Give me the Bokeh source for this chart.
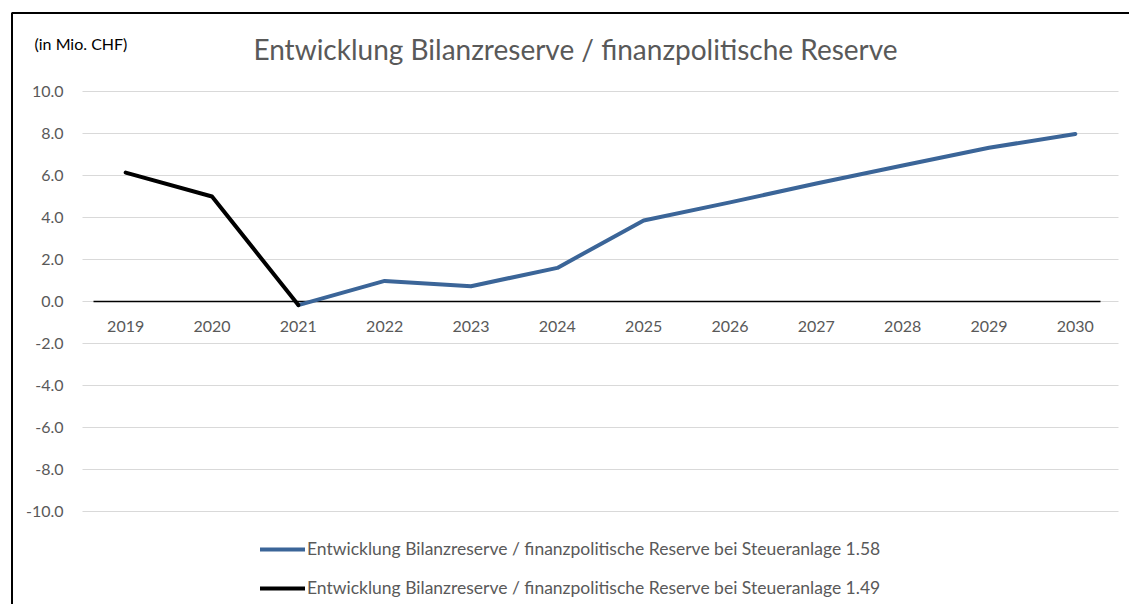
from bokeh.plotting import figure
from bokeh.models import Range1d, Label, Legend, LegendItem
from bokeh.core.properties import value
from bokeh.embed import file_html
from bokeh.resources import INLINE

# ---------------- data ----------------
years = ["2019", "2020", "2021", "2022", "2023", "2024", "2025", "2026", "2027", "2028", "2029", "2030"]
blue_years = ["2021", "2022", "2023", "2024", "2025", "2026", "2027", "2028", "2029", "2030"]
blue_vals = [-0.17, 0.98, 0.73, 1.6, 3.86, 4.72, 5.62, 6.48, 7.32, 7.98]
black_years = ["2019", "2020", "2021"]
black_vals = [6.14, 5.0, -0.17]
y_ticks = [-10, -8, -6, -4, -2, 0, 2, 4, 6, 8, 10]

title_text = "Entwicklung Bilanzreserve / finanzpolitische Reserve"
unit_text = "(in Mio. CHF)"
label_blue = "Entwicklung Bilanzreserve / finanzpolitische Reserve bei Steueranlage 1.58"
label_black = "Entwicklung Bilanzreserve / finanzpolitische Reserve bei Steueranlage 1.49"

# ---------------- layout helpers (pixel geometry of the chart box) ----------------
W, H = 1129, 604
PLOT_L, PLOT_R = 82, 1118          # category band edges (px)
Y_TOP_PX, Y_BOT_PX = 91, 511       # pixel rows of 10.0 and -10.0
first_year = int(years[0])
n = len(years)
px_per_cat = (PLOT_R - PLOT_L) / n
px_per_unit = (Y_BOT_PX - Y_TOP_PX) / (y_ticks[-1] - y_ticks[0])


def px_to_x(px):
    return first_year - 0.5 + (px - PLOT_L) / px_per_cat


def px_to_y(py):
    return y_ticks[-1] - (py - Y_TOP_PX) / px_per_unit


FONT = "Lato"
GRAY = "#595959"
BLUE = "#3b6598"

p = figure(width=W, height=H, x_axis_type=None, y_axis_type=None,
           x_range=Range1d(px_to_x(0), px_to_x(W)), y_range=Range1d(px_to_y(H), px_to_y(0)),
           output_backend="svg", toolbar_location=None)
p.min_border = 0
p.min_border_left = 0
p.min_border_right = 0
p.min_border_top = 0
p.min_border_bottom = 0
p.outline_line_color = None
p.background_fill_color = "white"
p.border_fill_color = "white"
p.grid.visible = False

year_x = [int(y) for y in years]

# chart-box border (left and top edges visible in the window)
p.line(x=[px_to_x(11.5), px_to_x(11.5), px_to_x(W + 20)],
       y=[px_to_y(H + 20), px_to_y(12.5), px_to_y(12.5)],
       line_color="black", line_width=2)

# horizontal gridlines
p.segment(x0=[year_x[0] - 0.5] * len(y_ticks), x1=[year_x[-1] + 0.5] * len(y_ticks),
          y0=y_ticks, y1=y_ticks, line_color="#d9d9d9", line_width=1)

# zero (category) axis line
p.segment(x0=[px_to_x(93)], x1=[px_to_x(1100)], y0=[0], y1=[0], line_color="black", line_width=1.5)

# y tick labels
p.text(x=[px_to_x(63)] * len(y_ticks), y=y_ticks, text=["%.1f" % t for t in y_ticks],
       text_align="right", text_baseline="middle", text_font=value(FONT),
       text_font_size="16px", text_color=GRAY)

# category labels just below the zero line
p.text(x=year_x, y=[0] * n, text=years, text_align="center", text_baseline="middle",
       y_offset=25, text_font=value(FONT), text_font_size="16px", text_color=GRAY)

r_blue = p.line([int(y) for y in blue_years], blue_vals, line_color=BLUE, line_width=4,
                line_cap="round", line_join="round")
r_black = p.line([int(y) for y in black_years], black_vals, line_color="black", line_width=4,
                 line_cap="round", line_join="round")

legend = Legend(items=[LegendItem(label=label_blue, renderers=[r_blue]),
                       LegendItem(label=label_black, renderers=[r_black])],
                location=(260, H - 598), orientation="vertical",
                glyph_width=45, glyph_height=20, label_height=20, spacing=18,
                label_standoff=2, padding=0, margin=0,
                label_text_font=FONT, label_text_font_size="17.5px", label_text_color=GRAY,
                border_line_color=None, background_fill_alpha=0)
p.add_layout(legend, "center")

p.add_layout(Label(x=px_to_x(575), y=px_to_y(48), text=title_text,
                   text_align="center", text_baseline="middle", text_font=FONT,
                   text_font_size="28px", text_color=GRAY))
p.add_layout(Label(x=px_to_x(34), y=px_to_y(43), text=unit_text,
                   text_align="left", text_baseline="middle", text_font=FONT,
                   text_font_size="16px", text_color="black"))

open("out.html", "w").write(file_html(p, INLINE))
